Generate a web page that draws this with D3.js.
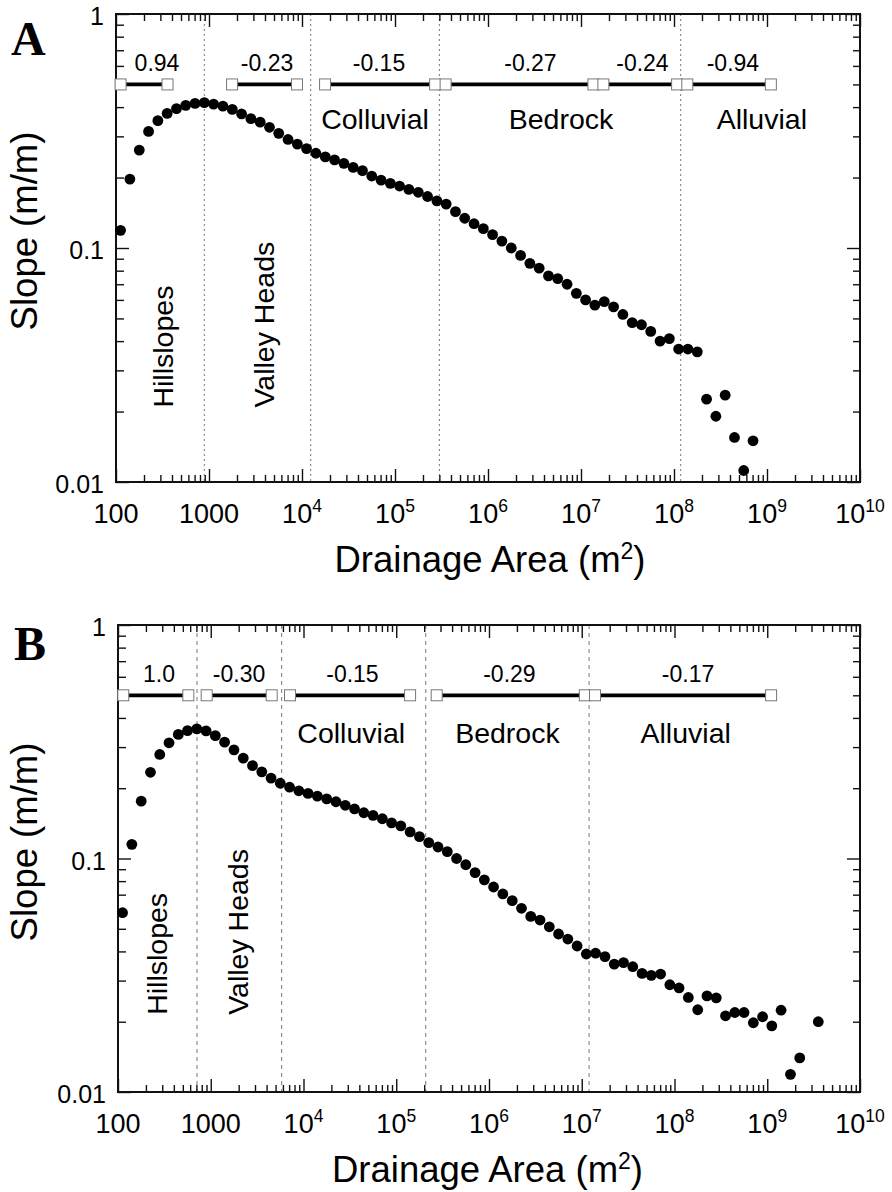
<!DOCTYPE html>
<html><head><meta charset="utf-8">
<script src="https://cdn.jsdelivr.net/npm/d3@7"></script>
<style>html,body{margin:0;padding:0;background:#fff}svg{display:block}</style>
</head><body>
<svg id="chart" width="892" height="1192"></svg>
<script>
// ================= DATA =================
// Panel A
const areaA = [
  1.12e2,1.41e2,1.78e2,2.24e2,2.82e2,3.55e2,4.47e2,5.62e2,7.08e2,8.91e2,
  1.12e3,1.41e3,1.78e3,2.24e3,2.82e3,3.55e3,4.47e3,5.62e3,7.08e3,8.91e3,
  1.12e4,1.41e4,1.78e4,2.24e4,2.82e4,3.55e4,4.47e4,5.62e4,7.08e4,8.91e4,
  1.12e5,1.41e5,1.78e5,2.24e5,2.82e5,3.55e5,4.47e5,5.62e5,7.08e5,8.91e5,
  1.12e6,1.41e6,1.78e6,2.24e6,2.82e6,3.55e6,4.47e6,5.62e6,7.08e6,8.91e6,
  1.12e7,1.41e7,1.78e7,2.24e7,2.82e7,3.55e7,4.47e7,5.62e7,7.08e7,8.91e7,
  1.12e8,1.41e8,1.78e8,2.24e8,2.82e8,3.55e8,4.47e8,5.62e8,7.08e8
];
const slopeA = [
  0.119,0.197,0.262,0.315,0.350,0.376,0.394,0.407,0.415,0.418,
  0.412,0.404,0.391,0.374,0.357,0.345,0.328,0.309,0.291,0.278,
  0.266,0.254,0.245,0.238,0.230,0.221,0.214,0.203,0.195,0.189,
  0.184,0.178,0.173,0.166,0.159,0.154,0.143,0.134,0.127,0.121,
  0.114,0.107,0.100,0.093,0.086,0.082,0.076,0.074,0.070,0.064,
  0.060,0.057,0.059,0.056,0.052,0.048,0.047,0.044,0.040,0.041,
  0.037,0.037,0.036,0.0226,0.0191,0.0235,0.0155,0.0112,0.0150
];
const boundsA = [890, 1.24e4, 3.0e5, 1.18e8];
const segStartA = [1.12e2, 1.77e3, 1.77e4, 3.5e5, 1.74e7, 1.39e8];
const segEndA   = [3.58e2, 8.83e3, 2.7e5, 1.36e7, 1.08e8, 1.1e9];
const segLabelA = ["0.94", "-0.23", "-0.15", "-0.27", "-0.24", "-0.94"];
const segLabelAtA = [276, 4210, 6.73e4, 2.86e6, 4.58e7, 4.3e8];
const regionA = ["Colluvial", "Bedrock", "Alluvial"];
const regionAtA = [6.1e4, 6.1e6, 8.8e8];
const vLabelA = ["Hillslopes", "Valley Heads"];
const vLabelAtA = [413, 5060];

// Panel B
const areaB = [
  1.12e2,1.41e2,1.78e2,2.24e2,2.82e2,3.55e2,4.47e2,5.62e2,7.08e2,8.91e2,
  1.12e3,1.41e3,1.78e3,2.24e3,2.82e3,3.55e3,4.47e3,5.62e3,7.08e3,8.91e3,
  1.12e4,1.41e4,1.78e4,2.24e4,2.82e4,3.55e4,4.47e4,5.62e4,7.08e4,8.91e4,
  1.12e5,1.41e5,1.78e5,2.24e5,2.82e5,3.55e5,4.47e5,5.62e5,7.08e5,8.91e5,
  1.12e6,1.41e6,1.78e6,2.24e6,2.82e6,3.55e6,4.47e6,5.62e6,7.08e6,8.91e6,
  1.12e7,1.41e7,1.78e7,2.24e7,2.82e7,3.55e7,4.47e7,5.62e7,7.08e7,8.91e7,
  1.12e8,1.41e8,1.78e8,2.24e8,2.82e8,3.55e8,4.47e8,5.62e8,7.08e8,8.91e8,
  1.12e9,1.41e9,1.78e9,2.24e9,3.55e9
];
const slopeB = [
  0.0586,0.115,0.176,0.234,0.279,0.313,0.340,0.353,0.359,0.352,
  0.336,0.315,0.292,0.269,0.250,0.235,0.221,0.210,0.202,0.195,
  0.190,0.185,0.180,0.175,0.169,0.163,0.157,0.153,0.148,0.142,
  0.138,0.130,0.124,0.117,0.112,0.107,0.100,0.094,0.087,0.081,
  0.0755,0.0705,0.066,0.0612,0.0565,0.0545,0.051,0.0475,0.0452,0.0422,
  0.039,0.0393,0.038,0.0353,0.0358,0.0344,0.0322,0.0316,0.032,0.0288,
  0.0279,0.0254,0.0225,0.0258,0.0253,0.0212,0.0219,0.0219,0.0198,0.021,
  0.0192,0.0224,0.0119,0.014,0.020
];
const boundsB = [711, 5820, 2.08e5, 1.2e7];
const segStartB = [1.14e2, 904, 7.15e3, 2.73e5, 1.39e7];
const segEndB   = [5.73e2, 4.54e3, 1.41e5, 1.08e7, 1.1e9];
const segLabelB = ["1.0", "-0.30", "-0.15", "-0.29", "-0.17"];
const segLabelAtB = [277, 2020, 3.37e4, 1.66e6, 1.4e8];
const regionB = ["Colluvial", "Bedrock", "Alluvial"];
const regionAtB = [3.27e4, 1.58e6, 1.32e8];
const vLabelB = ["Hillslopes", "Valley Heads"];
const vLabelAtB = [335, 2540];

// Axis ticks
const xTickBase = ["100", "1000", "10", "10", "10", "10", "10", "10", "10"];
const xTickSup  = ["", "", "4", "5", "6", "7", "8", "9", "10"];
const yTickLabels = ["0.01", "0.1", "1"];

// ================= DRAW =================
const svg = d3.select('#chart');
const FONT = '"Liberation Sans", Arial, Helvetica, sans-serif';
const xDomain = [1e2, 1e10], yDomain = [0.01, 1];
const majorX = d3.range(2, 11).map(e => Math.pow(10, e));
const minorX = d3.range(2, 10).flatMap(e => d3.range(2, 10).map(m => m * Math.pow(10, e)));
const majorY = [0.01, 0.1, 1];
const minorY = [-2, -1].flatMap(e => d3.range(2, 10).map(m => m * Math.pow(10, e)));

function panel(o) {
  const x = d3.scaleLog().domain(xDomain).range([o.left, o.right]);
  const y = d3.scaleLog().domain(yDomain).range([o.bottom, o.top]);
  const g = svg.append('g');

  // regime boundaries
  g.selectAll('line.bnd').data(o.bounds).join('line').attr('class', 'bnd')
    .attr('x1', d => x(d)).attr('x2', d => x(d))
    .attr('y1', o.top).attr('y2', o.bottom)
    .attr('stroke', '#777').attr('stroke-width', 1)
    .attr('stroke-dasharray', o.dash);

  // ticks via d3 axes (inward)
  function ticks(axisGen, vals, len, tr) {
    const a = g.append('g').attr('transform', tr)
      .call(axisGen.tickValues(vals).tickSizeInner(-len).tickSizeOuter(0).tickFormat(''));
    a.select('.domain').remove();
    a.selectAll('text').remove();
    a.selectAll('line').attr('stroke', '#111').attr('stroke-width', 1.4);
  }
  ticks(d3.axisBottom(x), majorX, 13, `translate(0,${o.bottom})`);
  ticks(d3.axisBottom(x), minorX, 7, `translate(0,${o.bottom})`);
  ticks(d3.axisTop(x), majorX, 13, `translate(0,${o.top})`);
  ticks(d3.axisTop(x), minorX, 7, `translate(0,${o.top})`);
  ticks(d3.axisLeft(y), majorY, 13, `translate(${o.left},0)`);
  ticks(d3.axisLeft(y), minorY, 8, `translate(${o.left},0)`);
  ticks(d3.axisRight(y), majorY, 13, `translate(${o.right},0)`);
  ticks(d3.axisRight(y), minorY, 7, `translate(${o.right},0)`);

  // frame
  g.append('rect').attr('x', o.left).attr('y', o.top)
    .attr('width', o.right - o.left).attr('height', o.bottom - o.top)
    .attr('fill', 'none').attr('stroke', '#111').attr('stroke-width', 2);

  // x tick labels
  const xl = g.selectAll('text.xt').data(majorX).join('text').attr('class', 'xt')
    .attr('x', d => x(d)).attr('y', o.bottom + 40.5)
    .attr('text-anchor', 'middle').attr('font-family', FONT).attr('font-size', 27);
  xl.each(function (d, i) {
    const t = d3.select(this);
    t.append('tspan').text(xTickBase[i]);
    if (xTickSup[i]) t.append('tspan').attr('dy', -11).attr('font-size', 17.5).text(xTickSup[i]);
  });

  // y tick labels
  g.selectAll('text.yt').data(majorY).join('text').attr('class', 'yt')
    .attr('x', o.left - 12).attr('y', d => y(d) + 11)
    .attr('text-anchor', 'end').attr('font-family', FONT).attr('font-size', 25)
    .text((d, i) => yTickLabels[i]);

  // data points
  g.selectAll('circle.pt').data(o.area).join('circle').attr('class', 'pt')
    .attr('cx', d => x(d)).attr('cy', (d, i) => y(o.slope[i]))
    .attr('r', 5.4).attr('fill', '#000');

  // segments
  const segY = y(0.5);
  g.selectAll('line.seg').data(o.segStart).join('line').attr('class', 'seg')
    .attr('x1', d => x(d)).attr('x2', (d, i) => x(o.segEnd[i]))
    .attr('y1', segY).attr('y2', segY)
    .attr('stroke', '#000').attr('stroke-width', 3.8);
  const ends = o.segStart.flatMap((d, i) => [d, o.segEnd[i]]);
  g.selectAll('rect.sq').data(ends).join('rect').attr('class', 'sq')
    .attr('x', d => x(d) - 5.5).attr('y', segY - 5.5)
    .attr('width', 11).attr('height', 11)
    .attr('fill', '#fff').attr('stroke', '#777').attr('stroke-width', 1);
  g.selectAll('text.sl').data(o.segLabel).join('text').attr('class', 'sl')
    .attr('x', (d, i) => x(o.segLabelAt[i])).attr('y', y(0.572))
    .attr('text-anchor', 'middle').attr('font-family', FONT).attr('font-size', 23)
    .text(d => d);

  // region labels
  g.selectAll('text.rg').data(o.region).join('text').attr('class', 'rg')
    .attr('x', (d, i) => x(o.regionAt[i])).attr('y', y(o.regionY))
    .attr('text-anchor', 'middle').attr('font-family', FONT).attr('font-size', 28.5)
    .text(d => d);
  g.selectAll('text.vl').data(o.vLabel).join('text').attr('class', 'vl')
    .attr('transform', (d, i) => `translate(${x(o.vLabelAt[i])},${y(o.vLabelY)}) rotate(-90)`)
    .attr('text-anchor', 'start').attr('font-family', FONT).attr('font-size', 28.5)
    .text(d => d);

  // axis titles
  const xt = g.append('text').attr('x', o.xTitleX).attr('y', o.bottom + 89.7)
    .attr('text-anchor', 'middle').attr('font-family', FONT).attr('font-size', 36.5);
  xt.append('tspan').text('Drainage Area (m');
  xt.append('tspan').attr('dy', -13).attr('font-size', 23).text('2');
  xt.append('tspan').attr('dy', 13).text(')');

  g.append('text').attr('transform', `translate(37,${o.yTitleY}) rotate(-90)`)
    .attr('text-anchor', 'middle').attr('font-family', FONT).attr('font-size', 36.5)
    .text('Slope (m/m)');

  // panel letter
  g.append('text').attr('x', o.letterX).attr('y', o.letterY)
    .attr('font-family', '"Liberation Serif", "Times New Roman", serif')
    .attr('font-weight', 'bold').attr('font-size', 48).text(o.letter);
}

panel({
  left: 116, right: 860, top: 14, bottom: 482,
  area: areaA, slope: slopeA, bounds: boundsA, dash: '2,3',
  segStart: segStartA, segEnd: segEndA, segLabel: segLabelA, segLabelAt: segLabelAtA,
  region: regionA, regionAt: regionAtA, regionY: 0.3216,
  vLabel: vLabelA, vLabelAt: vLabelAtA, vLabelY: 0.0208,
  xTitleX: 490, yTitleY: 231, letter: 'A', letterX: 11, letterY: 55
});
panel({
  left: 118, right: 860, top: 625, bottom: 1092,
  area: areaB, slope: slopeB, bounds: boundsB, dash: '4,4',
  segStart: segStartB, segEnd: segEndB, segLabel: segLabelB, segLabelAt: segLabelAtB,
  region: regionB, regionAt: regionAtB, regionY: 0.313,
  vLabel: vLabelB, vLabelAt: vLabelAtB, vLabelY: 0.0214,
  xTitleX: 487.5, yTitleY: 842, letter: 'B', letterX: 14, letterY: 660
});
</script>
</body></html>
